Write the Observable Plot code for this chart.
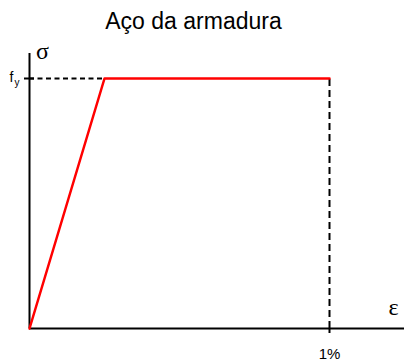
<!DOCTYPE html>
<html>
<head>
<meta charset="utf-8">
<script src="https://cdn.jsdelivr.net/npm/d3@7"></script>
<script src="https://cdn.jsdelivr.net/npm/@observablehq/plot@0.6"></script>
<style>
  html, body { margin: 0; padding: 0; background: #fff; }
  svg { display: block; }
</style>
</head>
<body>
<div id="chart"></div>
<script>
// Data (strain in %, stress as fraction of fy)
const strain = [0, 0.25, 1];
const stress = [0, 1, 1];
const yieldStrain = 0.25;
const ultimateStrain = 1;
const fy = 1;
const titleText = "Aço da armadura";
const xAxisLabel = "ε";
const yAxisLabel = "σ";
const xTickLabel = "1%";
const yTickLabelMain = "f";
const yTickLabelSub = "y";

const curve = strain.map((e, i) => ({e, s: stress[i]}));

const sans = "'Liberation Sans', Arial, sans-serif";
const serif = "'Liberation Serif', 'Times New Roman', serif";

const chart = Plot.plot({
  width: 404,
  height: 362,
  marginLeft: 29,
  marginRight: 0,
  marginTop: 53,
  marginBottom: 34,
  x: {domain: [0, 1.25], axis: null},
  y: {domain: [0, 1.1], axis: null},
  style: {background: "white", overflow: "visible", fontFamily: sans},
  marks: [
    // dashed guides
    Plot.ruleY([fy], {x1: 0, x2: yieldStrain, stroke: "black", strokeWidth: 2, strokeDasharray: "5,3.5"}),
    Plot.ruleX([ultimateStrain], {y1: 0, y2: fy, stroke: "black", strokeWidth: 2, strokeDasharray: "7,4"}),
    // axes
    Plot.ruleY([0], {stroke: "black", strokeWidth: 2}),
    Plot.ruleX([0], {stroke: "black", strokeWidth: 2}),
    // ticks
    Plot.ruleY([fy], {x1: 0, x2: 0, insetLeft: -5, insetRight: -5, stroke: "black", strokeWidth: 2}),
    Plot.ruleX([ultimateStrain], {y1: 0, y2: 0, insetBottom: -5, stroke: "black", strokeWidth: 2}),
    // stress-strain curve
    Plot.line(curve, {x: "e", y: "s", stroke: "#ff0000", strokeWidth: 2.5}),
    // labels
    Plot.text([titleText], {frameAnchor: "top", dx: -23.5, dy: -25, lineAnchor: "bottom", fontSize: 23, fontFamily: sans, fill: "black"}),
    Plot.text([yAxisLabel], {x: 0, y: 1.1, dx: 13, dy: -2, textAnchor: "middle", lineAnchor: "middle", fontSize: 24, fontFamily: serif, fill: "black"}),
    Plot.text([xAxisLabel], {frameAnchor: "bottom-right", dx: -11, dy: -21, textAnchor: "middle", lineAnchor: "middle", fontSize: 24, fontFamily: serif, fill: "black"}),
    Plot.text([xTickLabel], {x: ultimateStrain, y: 0, dy: 26, textAnchor: "middle", lineAnchor: "middle", fontSize: 15, fontFamily: sans, fill: "black"}),
    Plot.text([yTickLabelMain], {x: 0, y: fy, dx: -16, dy: -1, textAnchor: "end", lineAnchor: "middle", fontSize: 14, fontFamily: sans, fill: "black"}),
    Plot.text([yTickLabelSub], {x: 0, y: fy, dx: -10, dy: 4, textAnchor: "end", lineAnchor: "middle", fontSize: 10, fontFamily: sans, fill: "black"})
  ]
});

document.getElementById("chart").appendChild(chart);
</script>
</body>
</html>
